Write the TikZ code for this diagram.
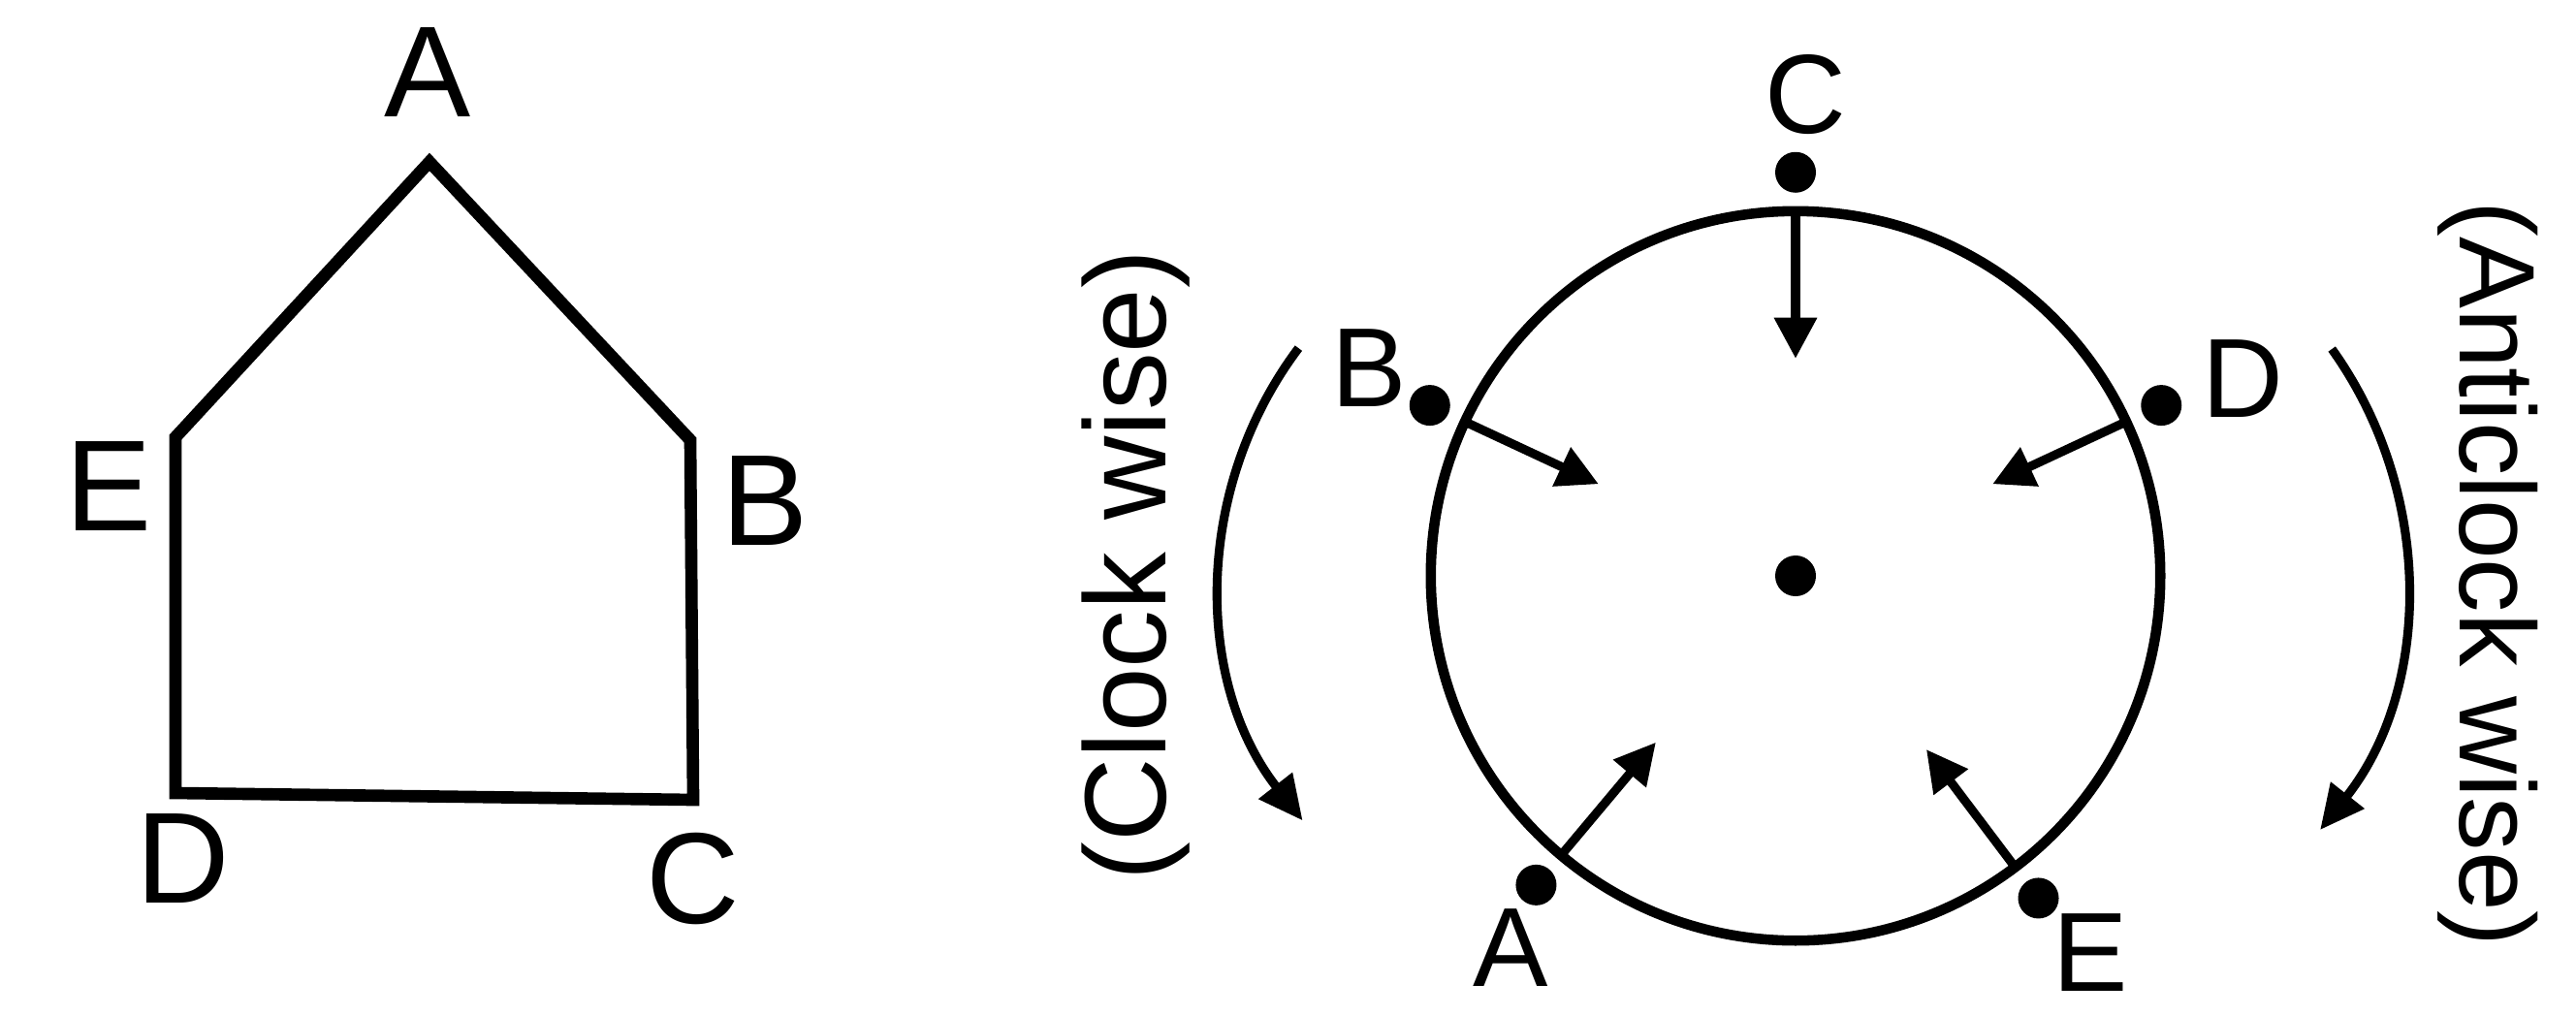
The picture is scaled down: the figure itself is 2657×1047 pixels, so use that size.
\documentclass[tikz,border=0pt]{standalone}
\usepackage{fontspec}
\setmainfont{Liberation Sans}
\usetikzlibrary{calc,arrows.meta}
\begin{document}
\begin{tikzpicture}[x=0.01cm,y=0.01cm,
  pent/.style={line width=3.6pt, line join=miter},
  ring/.style={line width=3pt},
  ray/.style={line width=2.6pt, -{Triangle[length=12pt,width=12pt]}},
  turn/.style={line width=2.6pt, -{Triangle[length=13pt,width=12pt]}},
  bigl/.style={font=\fontsize{38}{40}\selectfont, inner sep=0pt},
  ptl/.style={font=\fontsize{33}{35}\selectfont, inner sep=0pt},
  dot/.style={circle, fill=black, inner sep=0pt, minimum size=0.42cm},
]
\useasboundingbox (0,0) rectangle (2657,1047);
% pentagon
\coordinate (pA) at (443,880);
\coordinate (pB) at (712,593);
\coordinate (pC) at (715,222);
\coordinate (pD) at (181,229);
\coordinate (pE) at (181,596);
\draw[pent] (pA) -- (pB) -- (pC) -- (pD) -- (pE) -- cycle;
\node[bigl] (lA) at (441,972) {A};
\node[bigl] (lB) at (789,530) {B};
\node[bigl] (lC) at (715,141) {C};
\node[bigl] (lD) at (189,161) {D};
\node[bigl] (lE) at (112,545) {E};
% circle
\coordinate (O) at (1852,453);
\draw[ring] (O) circle[radius=3.76cm];
\node[dot] (dO) at (O) {};
\foreach \n/\a in {C/90, B/155, D/25, A/230, E/307} {
  \coordinate (s\n) at ($(O)+(\a:3.76cm)$);
  \coordinate (t\n) at ($(O)+(\a:2.24cm)$);
  \node[dot] (d\n) at ($(O)+(\a:4.16cm)$) {};
  \draw[ray] (s\n) -- (t\n);
}
\node[ptl] (cC) at (1862,949) {C};
\node[ptl] (cB) at (1412,667) {B};
\node[ptl] (cD) at (2313,656) {D};
\node[ptl] (cA) at (1558,69) {A};
\node[ptl] (cE) at (2156,64) {E};
% rotation arcs
\coordinate (LC) at (1659,447);
\coordinate (RC) at (2070,447);
\coordinate (L0) at ($(LC)+(143:4cm)$);
\coordinate (R0) at ($(RC)+(35.6:4.12cm)$);
\draw[turn] (L0) arc[start angle=143, end angle=218, radius=4cm];
\draw[turn] (R0) arc[start angle=35.6, end angle=-38.4, radius=4.12cm];
\node[rotate=90, inner sep=0pt, font=\fontsize{34}{36}\selectfont] (cw) at (1172,464) {(Clock wise)};
\node[rotate=-90, inner sep=0pt, font=\fontsize{31.5}{33}\selectfont] (acw) at (2566,455) {(Anticlock wise)};
\end{tikzpicture}
\end{document}
